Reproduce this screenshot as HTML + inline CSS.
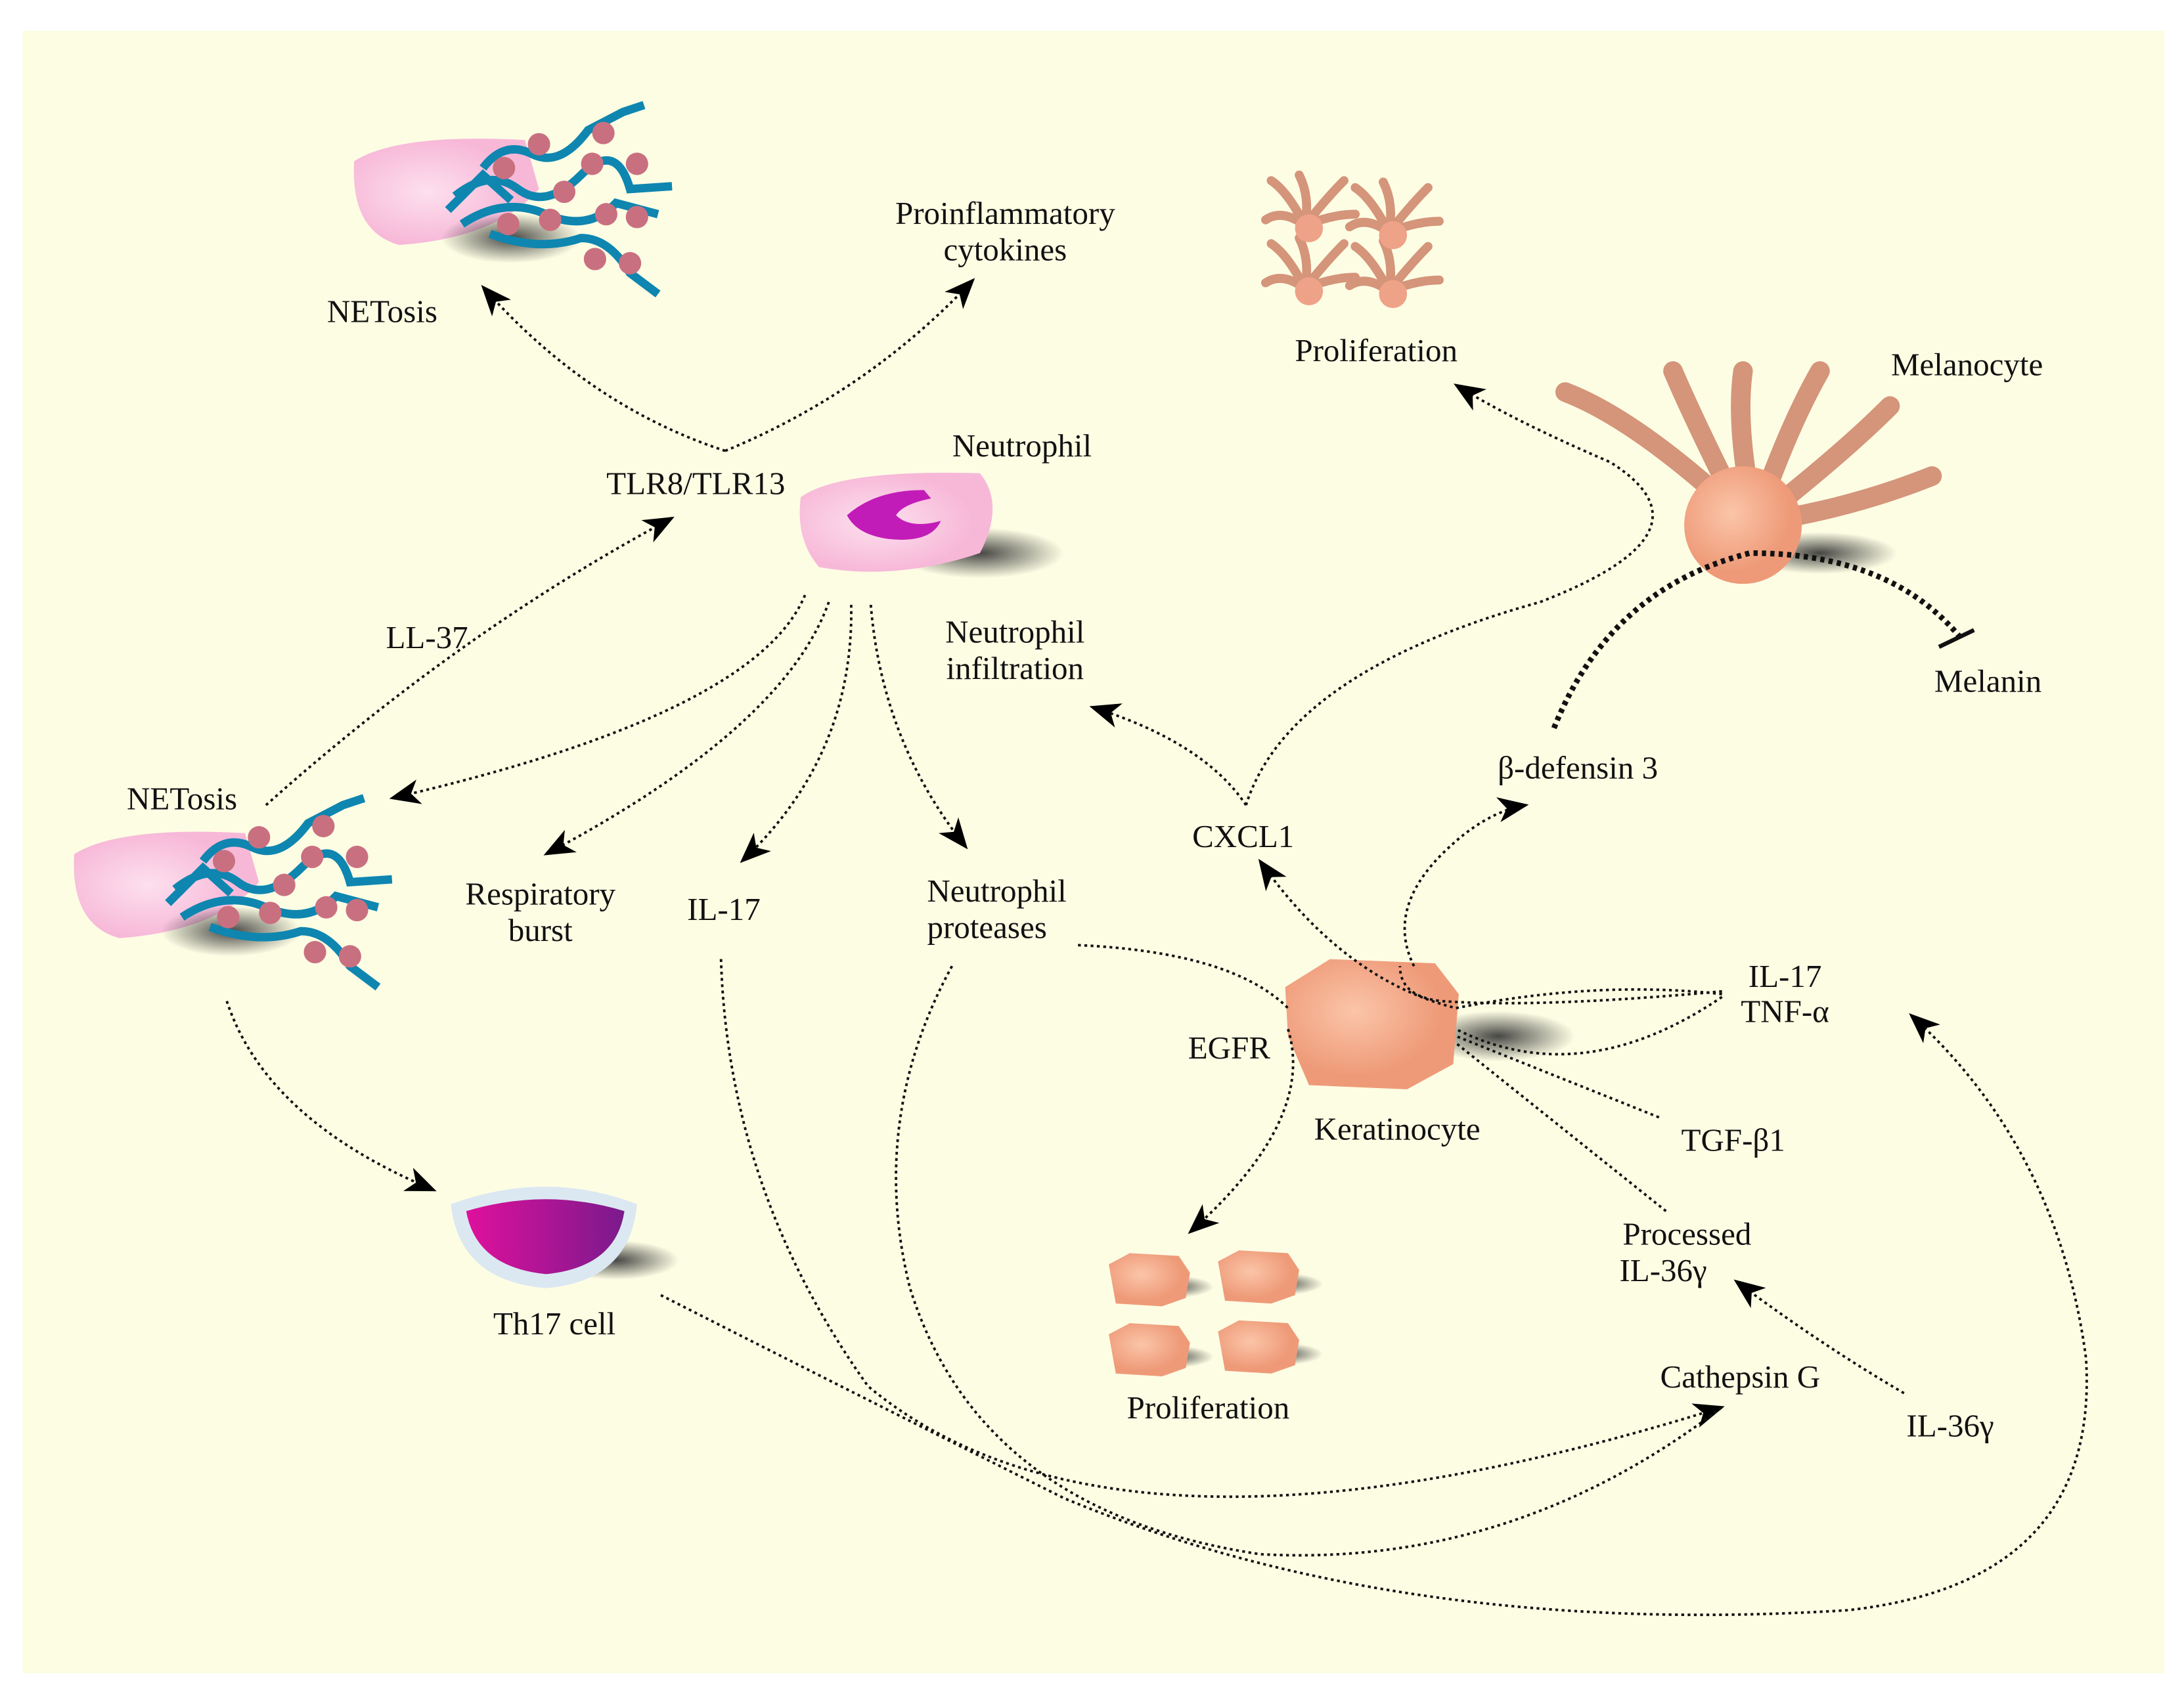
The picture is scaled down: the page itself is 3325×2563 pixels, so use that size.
<!DOCTYPE html>
<html><head><meta charset="utf-8"><style>
html,body{margin:0;padding:0;background:#fff;}
svg{display:block}
svg text{font-family:"Liberation Serif","DejaVu Serif",serif !important;}
</style></head><body>
<svg width="3325" height="2563" viewBox="0 0 1560 1202" preserveAspectRatio="none" xmlns="http://www.w3.org/2000/svg">
<defs>
<marker id="a" markerWidth="22" markerHeight="22" refX="20" refY="11" orient="auto" markerUnits="userSpaceOnUse" viewBox="0 0 22 22">
<path d="M0,2 L22,11 L0,20 L6,11Z" fill="#000"/></marker>
<radialGradient id="sh"><stop offset="0" stop-color="#333" stop-opacity=".9"/><stop offset="1" stop-color="#333" stop-opacity="0"/></radialGradient>
<radialGradient id="pk" cx=".4" cy=".5"><stop offset="0" stop-color="#fde0ee"/><stop offset="1" stop-color="#f7b8d8"/></radialGradient>
<radialGradient id="sk" cx=".4" cy=".4"><stop offset="0" stop-color="#fbc5a8"/><stop offset="1" stop-color="#ee9a78"/></radialGradient>
<linearGradient id="th" x1="0" x2="1"><stop offset="0" stop-color="#e0109c"/><stop offset="1" stop-color="#7a1a8c"/></linearGradient>
<g id="net">
<path d="M8,40 Q40,20 130,25 L140,60 Q110,95 40,100 Q5,90 8,40Z" fill="url(#pk)"/>
<ellipse cx="120" cy="95" rx="50" ry="18" fill="url(#sh)"/>
<g fill="none" stroke="#0e86b0" stroke-width="6">
<path d="M100,45 Q115,25 135,35 T175,18 L200,5 L215,0"/>
<path d="M80,65 Q105,45 125,60 T170,50 T205,60 L235,58"/>
<path d="M85,85 Q115,65 145,78 T195,70 L225,78"/>
<path d="M105,92 Q140,105 170,95 Q190,95 205,120 L225,135"/>
<path d="M75,75 L100,50 L120,68"/>
</g>
<g fill="#c97080">
<circle cx="115" cy="45" r="8"/><circle cx="140" cy="28" r="8"/><circle cx="186" cy="20" r="8"/>
<circle cx="178" cy="42" r="8"/><circle cx="210" cy="42" r="8"/><circle cx="158" cy="62" r="8"/>
<circle cx="118" cy="85" r="8"/><circle cx="148" cy="82" r="8"/><circle cx="188" cy="78" r="8"/>
<circle cx="210" cy="80" r="8"/><circle cx="180" cy="110" r="8"/><circle cx="205" cy="113" r="8"/>
</g>
</g>
<g id="hex"><ellipse cx="45" cy="24" rx="30" ry="8" fill="url(#sh)"/><path d="M0,8 L15,0 L50,2 L58,14 L55,32 L38,38 L5,36 Z" fill="url(#sk)"/></g>
<g id="mel" stroke="#d4957a" stroke-width="8" stroke-linecap="round" fill="none">
<path d="M40,45 Q20,30 5,40"/><path d="M40,45 Q25,15 10,5"/><path d="M40,45 Q45,20 35,0"/><path d="M40,45 Q60,20 75,5"/><path d="M40,45 Q65,35 85,35"/>
</g>
</defs>
<rect x="0" y="0" width="1560" height="1202" fill="#fff"/>
<rect x="16" y="22" width="1530" height="1173" fill="#fdfde4"/>

<use href="#net" transform="translate(245,75)"/>
<use href="#net" transform="translate(45,570)"/>

<ellipse cx="700" cy="395" rx="60" ry="18" fill="url(#sh)"/>
<path d="M572,355 Q600,335 700,338 Q718,360 700,395 Q640,415 585,405 Q568,385 572,355Z" fill="url(#pk)"/>
<path d="M605,368 Q625,350 660,350 L665,356 Q645,360 640,368 Q650,378 672,372 Q665,388 635,385 Q612,382 605,368Z" fill="#c21cb8"/>

<ellipse cx="440" cy="900" rx="45" ry="14" fill="url(#sh)"/>
<path d="M322,860 Q390,835 455,860 Q450,915 390,920 Q328,915 322,860Z" fill="#dbe8f2"/>
<path d="M333,865 Q390,848 446,865 Q440,905 390,910 Q340,905 333,865Z" fill="url(#th)"/>

<ellipse cx="1070" cy="740" rx="55" ry="18" fill="url(#sh)"/>
<path d="M918,705 L950,685 L1025,688 L1042,710 L1038,760 L1005,778 L935,775 L920,740Z" fill="url(#sk)"/>
<use href="#hex" transform="translate(792,895)"/><use href="#hex" transform="translate(870,893)"/>
<use href="#hex" transform="translate(792,945)"/><use href="#hex" transform="translate(870,943)"/>

<use href="#mel" transform="translate(900,125) scale(.8)"/><use href="#mel" transform="translate(960,130) scale(.8)"/>
<use href="#mel" transform="translate(900,170) scale(.8)"/><use href="#mel" transform="translate(960,172) scale(.8)"/>
<g fill="#eea288"><circle cx="935" cy="163" r="10"/><circle cx="995" cy="168" r="10"/><circle cx="935" cy="208" r="10"/><circle cx="995" cy="210" r="10"/></g>
<ellipse cx="1300" cy="395" rx="55" ry="15" fill="url(#sh)"/>
<g stroke="#d4957a" stroke-width="14" stroke-linecap="round" fill="none">
<path d="M1245,370 Q1170,300 1118,280"/><path d="M1240,360 Q1210,300 1195,265"/><path d="M1250,355 Q1240,300 1245,265"/>
<path d="M1260,355 Q1280,300 1300,265"/><path d="M1270,360 Q1320,320 1350,290"/><path d="M1275,370 Q1330,360 1380,340"/>
</g>
<circle cx="1245" cy="375" r="42" fill="url(#sk)"/>

<g fill="none" stroke="#111" stroke-width="1.8" stroke-dasharray="2 2.5">
<path d="M518,322 Q420,290 345,205" marker-end="url(#a)"/>
<path d="M518,322 Q620,280 695,200" marker-end="url(#a)"/>
<path d="M190,575 Q330,450 480,370" marker-end="url(#a)"/>
<path d="M575,425 Q540,510 280,570" marker-end="url(#a)"/>
<path d="M592,430 Q560,520 390,610" marker-end="url(#a)"/>
<path d="M608,432 Q610,540 530,615" marker-end="url(#a)"/>
<path d="M622,432 Q630,530 690,605" marker-end="url(#a)"/>
<path d="M890,575 Q860,530 780,505" marker-end="url(#a)"/>
<path d="M890,575 Q920,480 1100,430 Q1230,380 1150,330 Q1080,300 1040,275" marker-end="url(#a)"/>
<path d="M1010,690 Q990,650 1030,610 Q1060,580 1090,575" marker-end="url(#a)"/>
<path d="M1230,708 Q1100,720 1030,715 Q1000,712 1000,690"/>
<path d="M1230,710 Q1140,700 1040,720 Q960,700 900,615" marker-end="url(#a)"/>
<path d="M1230,712 Q1130,780 1040,735"/>
<path d="M1185,798 L1040,740"/>
<path d="M1190,865 L1040,745"/>
<path d="M920,735 Q940,800 850,880" marker-end="url(#a)"/>
<path d="M1360,995 Q1300,960 1240,915" marker-end="url(#a)"/>
<path d="M162,715 Q190,800 310,850" marker-end="url(#a)"/>
<path d="M472,925 Q600,990 760,1070 Q1000,1170 1320,1150 Q1500,1130 1490,970 Q1470,820 1365,725" marker-end="url(#a)"/>
<path d="M515,685 Q520,850 620,990 Q800,1140 1230,1005" marker-end="url(#a)"/>
<path d="M680,690 Q620,800 650,920 Q700,1080 900,1110 Q1080,1120 1230,1005"/>
<path d="M770,675 Q880,680 920,720"/>
</g>
<path d="M1110,520 Q1150,420 1250,395 Q1350,395 1400,455" fill="none" stroke="#111" stroke-width="4" stroke-dasharray="3 3"/>
<path d="M1385,462 L1410,450" stroke="#111" stroke-width="3"/>

<g text-anchor="middle" style="font-family:'Liberation Serif','DejaVu Serif',serif;font-size:23px;fill:#111">
<text x="273" y="230">NETosis</text>
<text x="718" y="160">Proinflammatory</text><text x="718" y="186">cytokines</text>
<text x="983" y="258">Proliferation</text>
<text x="1405" y="268">Melanocyte</text>
<text x="730" y="326">Neutrophil</text>
<text x="497" y="353">TLR8/TLR13</text>
<text x="305" y="463">LL-37</text>
<text x="725" y="459">Neutrophil</text><text x="725" y="485">infiltration</text>
<text x="1420" y="494">Melanin</text>
<text x="130" y="578">NETosis</text>
<text x="1127" y="556">β-defensin 3</text>
<text x="888" y="605">CXCL1</text>
<text x="386" y="646">Respiratory</text><text x="386" y="672">burst</text>
<text x="517" y="657">IL-17</text>
<text x="712" y="644">Neutrophil</text><text x="705" y="670">proteases</text>
<text x="1275" y="705">IL-17</text><text x="1275" y="730">TNF-α</text>
<text x="878" y="756">EGFR</text>
<text x="998" y="814">Keratinocyte</text>
<text x="1238" y="822">TGF-β1</text>
<text x="1205" y="889">Processed</text><text x="1188" y="915">IL-36γ</text>
<text x="396" y="953">Th17 cell</text>
<text x="1243" y="991">Cathepsin G</text>
<text x="1393" y="1026">IL-36γ</text>
<text x="863" y="1013">Proliferation</text>
</g>
</svg>
</body></html>
